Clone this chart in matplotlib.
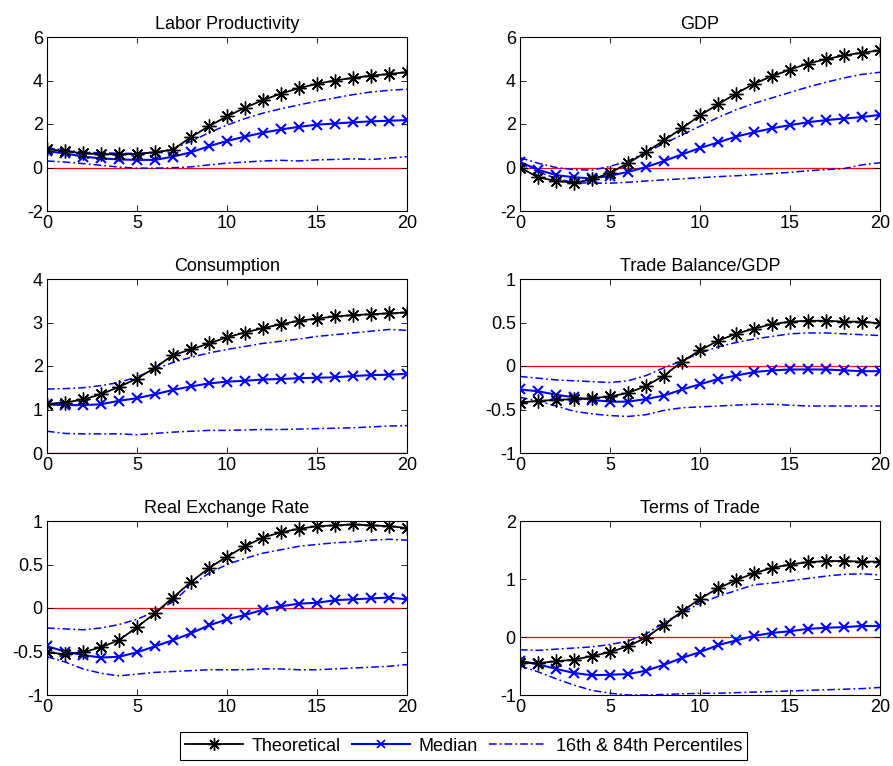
import matplotlib
matplotlib.use('Agg')
import matplotlib.pyplot as plt
import numpy as np

plt.rcParams['font.family'] = ['Liberation Sans', 'DejaVu Sans']

horizon = np.arange(21)

titles = ['Labor Productivity', 'GDP', 'Consumption',
          'Trade Balance/GDP', 'Real Exchange Rate', 'Terms of Trade']

# theoretical responses
theo_lp = [0.85, 0.75, 0.65, 0.62, 0.6, 0.62, 0.7, 0.82, 1.4, 1.9, 2.35, 2.75,
           3.1, 3.4, 3.65, 3.85, 4.0, 4.12, 4.22, 4.3, 4.38]
theo_gdp = [0.0, -0.45, -0.62, -0.7, -0.55, -0.25, 0.2, 0.7, 1.25, 1.8, 2.4, 2.9,
            3.4, 3.85, 4.2, 4.5, 4.78, 4.98, 5.15, 5.28, 5.38]
theo_c = [1.13, 1.16, 1.23, 1.35, 1.52, 1.71, 1.96, 2.25, 2.38, 2.52, 2.66, 2.77,
          2.87, 2.96, 3.04, 3.09, 3.14, 3.17, 3.19, 3.21, 3.23]
theo_tb = [-0.42, -0.4, -0.39, -0.38, -0.37, -0.35, -0.31, -0.23, -0.11, 0.05, 0.18,
           0.29, 0.37, 0.43, 0.48, 0.51, 0.52, 0.52, 0.51, 0.51, 0.49]
theo_rer = [-0.51, -0.53, -0.51, -0.45, -0.37, -0.22, -0.06, 0.12, 0.3, 0.46, 0.59,
            0.71, 0.81, 0.87, 0.91, 0.94, 0.95, 0.96, 0.95, 0.94, 0.92]
theo_tot = [-0.44, -0.45, -0.42, -0.39, -0.33, -0.26, -0.16, -0.01, 0.21, 0.44, 0.66,
            0.84, 0.98, 1.1, 1.19, 1.25, 1.29, 1.31, 1.31, 1.3, 1.3]

# median responses
med_lp = [0.75, 0.65, 0.5, 0.42, 0.37, 0.35, 0.35, 0.5, 0.7, 0.98, 1.22, 1.42,
          1.6, 1.75, 1.87, 1.97, 2.02, 2.08, 2.12, 2.15, 2.18]
med_gdp = [0.25, -0.1, -0.35, -0.45, -0.5, -0.38, -0.2, 0.02, 0.3, 0.6, 0.9, 1.15,
           1.42, 1.62, 1.8, 1.95, 2.08, 2.18, 2.25, 2.32, 2.42]
med_c = [1.12, 1.1, 1.1, 1.12, 1.2, 1.26, 1.35, 1.45, 1.53, 1.6, 1.64, 1.66,
         1.69, 1.7, 1.72, 1.73, 1.74, 1.77, 1.79, 1.8, 1.82]
med_tb = [-0.27, -0.29, -0.33, -0.36, -0.39, -0.41, -0.41, -0.38, -0.34, -0.27, -0.21,
          -0.15, -0.11, -0.07, -0.05, -0.04, -0.04, -0.04, -0.05, -0.06, -0.06]
med_rer = [-0.44, -0.5, -0.54, -0.57, -0.56, -0.51, -0.44, -0.37, -0.29, -0.2, -0.13,
           -0.08, -0.02, 0.02, 0.05, 0.06, 0.09, 0.1, 0.11, 0.12, 0.1]
med_tot = [-0.41, -0.47, -0.55, -0.62, -0.66, -0.65, -0.64, -0.58, -0.48, -0.36, -0.26,
           -0.14, -0.06, 0.02, 0.07, 0.1, 0.14, 0.16, 0.17, 0.19, 0.19]

# 84th percentile
hi_lp = [0.9, 0.8, 0.7, 0.68, 0.65, 0.65, 0.68, 0.85, 1.2, 1.6, 1.95, 2.25,
         2.5, 2.7, 2.88, 3.05, 3.2, 3.35, 3.47, 3.55, 3.6]
hi_gdp = [0.45, 0.2, 0.0, -0.1, -0.12, 0.05, 0.3, 0.7, 1.1, 1.5, 1.9, 2.3,
          2.65, 2.95, 3.2, 3.45, 3.7, 3.92, 4.12, 4.28, 4.38]
hi_c = [1.47, 1.48, 1.5, 1.55, 1.62, 1.75, 1.93, 2.08, 2.2, 2.3, 2.38, 2.45,
        2.52, 2.57, 2.62, 2.68, 2.72, 2.76, 2.8, 2.84, 2.82]
hi_tb = [-0.12, -0.14, -0.16, -0.17, -0.18, -0.19, -0.17, -0.11, -0.02, 0.06, 0.15,
         0.22, 0.27, 0.31, 0.34, 0.37, 0.38, 0.38, 0.37, 0.36, 0.35]
hi_rer = [-0.23, -0.24, -0.25, -0.23, -0.19, -0.13, -0.04, 0.07, 0.26, 0.4, 0.5,
          0.57, 0.63, 0.67, 0.71, 0.73, 0.75, 0.76, 0.78, 0.79, 0.78]
hi_tot = [-0.22, -0.23, -0.21, -0.19, -0.17, -0.13, -0.07, 0.05, 0.25, 0.42, 0.58,
          0.7, 0.8, 0.9, 0.93, 0.97, 1.01, 1.05, 1.08, 1.09, 1.07]

# 16th percentile
lo_lp = [0.3, 0.25, 0.18, 0.1, 0.02, -0.03, -0.03, -0.01, 0.03, 0.12, 0.2, 0.25,
         0.3, 0.33, 0.3, 0.35, 0.37, 0.4, 0.37, 0.43, 0.5]
lo_gdp = [0.2, -0.2, -0.5, -0.7, -0.72, -0.72, -0.68, -0.62, -0.57, -0.52, -0.47,
          -0.42, -0.38, -0.33, -0.28, -0.22, -0.15, -0.1, -0.05, 0.12, 0.22]
lo_c = [0.5, 0.45, 0.44, 0.44, 0.44, 0.42, 0.45, 0.48, 0.5, 0.52, 0.52, 0.53,
        0.54, 0.54, 0.55, 0.56, 0.57, 0.58, 0.6, 0.62, 0.63]
lo_tb = [-0.36, -0.4, -0.46, -0.52, -0.55, -0.57, -0.58, -0.56, -0.51, -0.48, -0.47,
         -0.46, -0.45, -0.44, -0.44, -0.45, -0.46, -0.46, -0.46, -0.46, -0.46]
lo_rer = [-0.56, -0.62, -0.7, -0.75, -0.78, -0.76, -0.74, -0.73, -0.72, -0.71, -0.71,
          -0.71, -0.7, -0.7, -0.71, -0.71, -0.7, -0.69, -0.68, -0.67, -0.65]
lo_tot = [-0.5, -0.6, -0.72, -0.83, -0.92, -0.97, -1.0, -1.0, -0.99, -0.98, -0.97,
          -0.97, -0.96, -0.95, -0.94, -0.93, -0.92, -0.91, -0.9, -0.89, -0.87]

theo = [theo_lp, theo_gdp, theo_c, theo_tb, theo_rer, theo_tot]
med = [med_lp, med_gdp, med_c, med_tb, med_rer, med_tot]
hi = [hi_lp, hi_gdp, hi_c, hi_tb, hi_rer, hi_tot]
lo = [lo_lp, lo_gdp, lo_c, lo_tb, lo_rer, lo_tot]

ylims = [(-2, 6), (-2, 6), (0, 4), (-1, 1), (-1, 1), (-1, 2)]
yticks = [[-2, 0, 2, 4, 6], [-2, 0, 2, 4, 6], [0, 1, 2, 3, 4],
          [-1, -0.5, 0, 0.5, 1], [-1, -0.5, 0, 0.5, 1], [-1, 0, 1, 2]]

# matlab style asterisk marker and dash-dot pattern
star = (8, 2, 0)
dashdot = (0, (5, 2, 1.2, 2))

fig = plt.figure(figsize=(8.93, 7.66), dpi=100)

W, H = 893, 766
col_x = [47, 520]
col_w = 360
row_top = [37, 279, 521]
row_h = 174

for i in range(6):
    r, c = divmod(i, 2)
    ax = fig.add_axes([col_x[c] / W, 1 - (row_top[r] + row_h) / H,
                       col_w / W, row_h / H])
    ax.axhline(0, color='red', lw=0.9, zorder=1)
    ax.plot(horizon, hi[i], color='blue', ls=dashdot, lw=1.1, zorder=2)
    ax.plot(horizon, lo[i], color='blue', ls=dashdot, lw=1.1, zorder=2)
    ax.plot(horizon, med[i], color='blue', lw=1.5, marker='x', ms=7, mew=1.5, zorder=3)
    ax.plot(horizon, theo[i], color='black', lw=1.3, marker=star, ms=10,
            mew=1.0, zorder=4)
    ax.set_xlim(0, 20)
    ax.set_ylim(*ylims[i])
    ax.set_xticks([0, 5, 10, 15, 20])
    ax.set_yticks(yticks[i])
    ax.set_yticklabels(['%g' % v for v in yticks[i]])
    ax.tick_params(direction='in', top=True, right=True, length=4, width=0.6,
                   labelsize=13, pad=3)
    for s in ax.spines.values():
        s.set_linewidth(0.8)
    ax.set_title(titles[i], fontsize=13, pad=6)

h1, = plt.plot([], [], color='black', lw=1.3, marker=star, ms=9, mew=1.0)
h2, = plt.plot([], [], color='blue', lw=1.5, marker='x', ms=6, mew=1.3)
h3, = plt.plot([], [], color='blue', ls=dashdot, lw=1.1)
leg = fig.legend([h1, h2, h3], ['Theoretical', 'Median', '16th & 84th Percentiles'],
                 loc='center', bbox_to_anchor=(0.519, 0.026), ncol=3,
                 fontsize=13, frameon=True, fancybox=False, edgecolor='black',
                 framealpha=1, handlelength=3.2, columnspacing=0.6,
                 handletextpad=0.5, borderpad=0.3)
leg.get_frame().set_linewidth(0.8)

fig.savefig('out.png', dpi=100, facecolor='white')
